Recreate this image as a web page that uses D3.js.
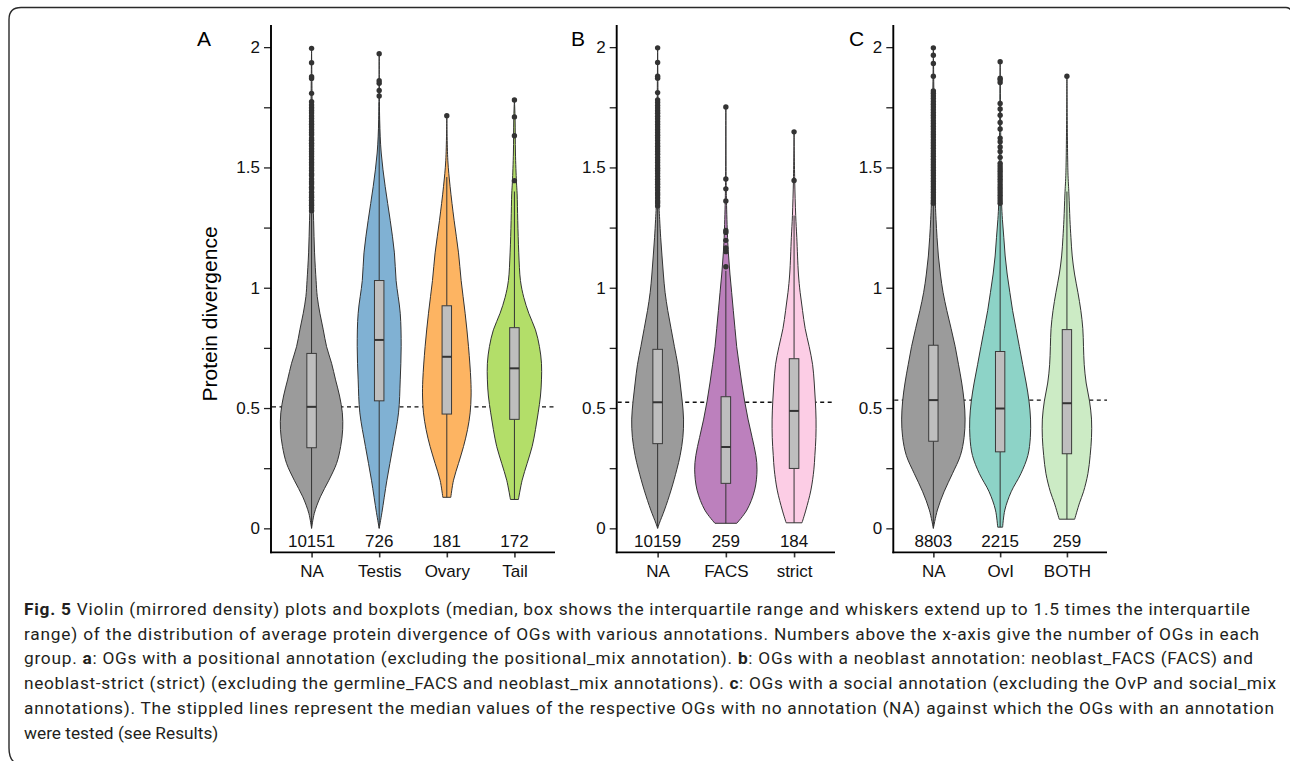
<!DOCTYPE html>
<html><head><meta charset="utf-8">
<script src="https://cdn.jsdelivr.net/npm/d3@7"></script>
<style>body{margin:0;background:#fff}svg{display:block}</style>
</head><body>
<svg id="chart" width="1290" height="761"></svg>
<script>
// ---------------- DATA ----------------
const panelLabels = ["A", "B", "C"];
const categoriesA = ["NA", "Testis", "Ovary", "Tail"];
const categoriesB = ["NA", "FACS", "strict"];
const categoriesC = ["NA", "OvI", "BOTH"];
const countsA = [10151, 726, 181, 172];
const countsB = [10159, 259, 184];
const countsC = [8803, 2215, 259];
const yTickValues = [0, 0.25, 0.5, 0.75, 1, 1.25, 1.5, 1.75, 2];
const yTickLabels = ["0", "", "0.5", "", "1", "", "1.5", "", "2"];
const yTitle = "Protein divergence";
// median of NA group (stippled line)
const naMedians = [0.505, 0.524, 0.533];

// violin density profiles: [value, half-width in category units]
const densityA_NA = [[0,0],[0.062,0.04],[0.131,0.13],[0.2,0.256],[0.27,0.37],[0.34,0.43],[0.41,0.46],[0.48,0.455],[0.55,0.414],[0.617,0.355],[0.686,0.296],[0.755,0.222],[0.825,0.173],[0.894,0.123],[0.963,0.084],[1.03,0.067],[1.145,0.044],[1.28,0.03],[1.4,0.018],[1.6,0.012],[1.8,0.007],[1.995,0]];
const densityA_Testis = [[0,0],[0.065,0.04],[0.2,0.114],[0.34,0.203],[0.48,0.286],[0.617,0.311],[0.755,0.325],[0.894,0.311],[1.03,0.25],[1.145,0.225],[1.28,0.163],[1.42,0.089],[1.56,0.03],[1.7,0.007],[1.973,0]];
const densityA_Ovary = [[0.129,0.059],[0.2,0.099],[0.27,0.173],[0.34,0.247],[0.41,0.306],[0.48,0.345],[0.55,0.359],[0.617,0.355],[0.755,0.321],[0.894,0.271],[1.03,0.212],[1.145,0.173],[1.28,0.108],[1.42,0.049],[1.53,0.015],[1.715,0]];
const densityA_Tail = [[0.12,0.059],[0.2,0.114],[0.27,0.188],[0.34,0.262],[0.41,0.311],[0.48,0.351],[0.55,0.385],[0.617,0.4],[0.686,0.4],[0.755,0.37],[0.825,0.311],[0.894,0.212],[0.96,0.138],[1.03,0.089],[1.145,0.064],[1.28,0.049],[1.39,0.04],[1.44,0.03],[1.56,0.015],[1.7,0.01],[1.78,0]];
const densityB_NA = [[0,0],[0.021,0.025],[0.076,0.1],[0.159,0.197],[0.243,0.28],[0.303,0.33],[0.378,0.37],[0.454,0.38],[0.529,0.36],[0.604,0.33],[0.68,0.296],[0.755,0.246],[0.83,0.197],[0.906,0.148],[0.981,0.109],[1.057,0.084],[1.132,0.064],[1.208,0.045],[1.283,0.03],[1.336,0.021],[1.5,0.013],[1.7,0.008],[1.997,0]];
const densityB_FACS = [[0.021,0.16],[0.076,0.308],[0.159,0.422],[0.243,0.457],[0.303,0.44],[0.378,0.385],[0.454,0.325],[0.529,0.275],[0.604,0.233],[0.68,0.195],[0.755,0.159],[0.83,0.134],[0.906,0.109],[0.981,0.085],[1.057,0.06],[1.132,0.04],[1.208,0.025],[1.36,0.009],[1.45,0.004],[1.751,0]];
const densityB_strict = [[0.023,0.116],[0.076,0.173],[0.159,0.247],[0.243,0.29],[0.303,0.305],[0.378,0.32],[0.454,0.322],[0.529,0.312],[0.604,0.296],[0.68,0.272],[0.755,0.222],[0.83,0.163],[0.906,0.124],[0.981,0.089],[1.057,0.064],[1.208,0.04],[1.3,0.024],[1.45,0.009],[1.648,0]];
const densityC_NA = [[0,0],[0.076,0.06],[0.152,0.16],[0.227,0.285],[0.303,0.405],[0.378,0.46],[0.454,0.475],[0.529,0.46],[0.604,0.425],[0.68,0.377],[0.755,0.327],[0.83,0.266],[0.906,0.201],[0.981,0.145],[1.057,0.105],[1.132,0.075],[1.208,0.055],[1.283,0.04],[1.35,0.03],[1.6,0.015],[1.8,0.008],[1.997,0]];
const densityC_OvI = [[0.005,0.037],[0.076,0.07],[0.152,0.165],[0.227,0.31],[0.303,0.415],[0.378,0.452],[0.454,0.455],[0.529,0.432],[0.604,0.39],[0.68,0.338],[0.755,0.288],[0.83,0.237],[0.906,0.186],[0.981,0.145],[1.057,0.105],[1.132,0.075],[1.208,0.055],[1.283,0.034],[1.357,0.021],[1.6,0.01],[1.939,0]];
const densityC_BOTH = [[0.038,0.116],[0.106,0.189],[0.152,0.248],[0.227,0.314],[0.303,0.348],[0.378,0.368],[0.454,0.368],[0.529,0.338],[0.604,0.288],[0.68,0.259],[0.755,0.248],[0.83,0.238],[0.906,0.208],[0.981,0.164],[1.057,0.114],[1.132,0.079],[1.208,0.06],[1.283,0.045],[1.39,0.03],[1.48,0.015],[1.879,0]];

// box stats: [lower whisker, Q1, median, Q3, upper whisker]
const boxA = [[0,0.335,0.505,0.727,1.31],[0,0.53,0.783,1.03,1.77],[0.129,0.475,0.713,0.925,1.46],[0.12,0.453,0.665,0.834,1.40]];
const boxB = [[0,0.352,0.524,0.744,1.33],[0.021,0.187,0.338,0.547,1.07],[0.023,0.249,0.488,0.705,1.30]];
const boxC = [[0,0.362,0.533,0.761,1.35],[0.005,0.318,0.498,0.735,1.35],[0.038,0.31,0.52,0.826,1.40]];

// outliers
const outliersA_NA = [1.32,1.331,1.343,1.352,1.364,1.376,1.385,1.397,1.41,1.418,1.431,1.44,1.452,1.466,1.474,1.487,1.498,1.51,1.521,1.533,1.545,1.556,1.566,1.578,1.59,1.601,1.613,1.622,1.636,1.645,1.657,1.668,1.68,1.691,1.703,1.714,1.726,1.737,1.748,1.76,1.773,1.808,1.870,1.877,1.935,1.995];
const outliersA_Testis = [1.797,1.82,1.85,1.86,1.973];
const outliersA_Ovary = [1.715];
const outliersA_Tail = [1.445,1.632,1.71,1.78];
const outliersB_NA = [1.34,1.352,1.361,1.373,1.385,1.394,1.406,1.418,1.43,1.44,1.451,1.463,1.475,1.486,1.497,1.508,1.52,1.531,1.542,1.555,1.566,1.577,1.588,1.6,1.612,1.623,1.634,1.645,1.657,1.668,1.679,1.69,1.702,1.713,1.725,1.736,1.747,1.758,1.77,1.781,1.811,1.871,1.879,1.936,1.997];
const outliersB_FACS = [1.087,1.15,1.165,1.197,1.23,1.238,1.361,1.411,1.452,1.751];
const outliersB_strict = [1.446,1.648];
const outliersC_NA = [1.351,1.362,1.374,1.385,1.397,1.408,1.42,1.431,1.443,1.454,1.466,1.477,1.488,1.5,1.511,1.523,1.534,1.546,1.557,1.568,1.58,1.591,1.603,1.614,1.626,1.637,1.648,1.66,1.671,1.683,1.694,1.706,1.717,1.728,1.74,1.751,1.763,1.774,1.786,1.797,1.808,1.818,1.879,1.932,1.966,1.997];
const outliersC_OvI = [1.351,1.362,1.373,1.384,1.395,1.406,1.417,1.428,1.44,1.451,1.462,1.473,1.484,1.495,1.506,1.517,1.542,1.566,1.585,1.607,1.622,1.66,1.687,1.717,1.743,1.766,1.853,1.864,1.871,1.939];
const outliersC_BOTH = [1.879];

const captionLines = [
  [["Fig. 5", true], [" Violin (mirrored density) plots and boxplots (median, box shows the interquartile range and whiskers extend up to 1.5 times the interquartile", false]],
  [["range) of the distribution of average protein divergence of OGs with various annotations. Numbers above the x-axis give the number of OGs in each", false]],
  [["group. ", false], ["a", true], [": OGs with a positional annotation (excluding the positional_mix annotation). ", false], ["b", true], [": OGs with a neoblast annotation: neoblast_FACS (FACS) and", false]],
  [["neoblast-strict (strict) (excluding the germline_FACS and neoblast_mix annotations). ", false], ["c", true], [": OGs with a social annotation (excluding the OvP and social_mix", false]],
  [["annotations). The stippled lines represent the median values of the respective OGs with no annotation (NA) against which the OGs with an annotation", false]],
  [["were tested (see Results)", false]]
];

// ---------------- STYLE / LAYOUT ----------------
const colorsA = ["#9b9b9b", "#80b1d3", "#fdb462", "#b3de69"];
const colorsB = ["#9b9b9b", "#bc80bd", "#fccde5"];
const colorsC = ["#9b9b9b", "#8dd3c7", "#ccebc5"];
const axisFont = "'Liberation Sans', Arial, Helvetica, sans-serif";

const panels = [
  {label: panelLabels[0], cats: categoriesA, counts: countsA, colors: colorsA, box: boxA,
   dens: [densityA_NA, densityA_Testis, densityA_Ovary, densityA_Tail],
   outl: [outliersA_NA, outliersA_Testis, outliersA_Ovary, outliersA_Tail],
   med: naMedians[0], x0: 271, x1: 555, labelX: 197},
  {label: panelLabels[1], cats: categoriesB, counts: countsB, colors: colorsB, box: boxB,
   dens: [densityB_NA, densityB_FACS, densityB_strict],
   outl: [outliersB_NA, outliersB_FACS, outliersB_strict],
   med: naMedians[1], x0: 616.7, x1: 835, labelX: 571},
  {label: panelLabels[2], cats: categoriesC, counts: countsC, colors: colorsC, box: boxC,
   dens: [densityC_NA, densityC_OvI, densityC_BOTH],
   outl: [outliersC_NA, outliersC_OvI, outliersC_BOTH],
   med: naMedians[2], x0: 893.3, x1: 1107, labelX: 849}
];

const svg = d3.select("#chart");
const yTop = 25, yBottom = 552.4;
const y = d3.scaleLinear().domain([-0.1, 2.092]).range([yBottom, yTop]);

// figure frame (bracket)
svg.append("path")
  .attr("d", "M1286,7.5 Q1289,7.5 1291,10 M1286,7.5 L21,7.5 Q9,7.5 9,19.5 L9,748 Q9,758 14,762")
  .attr("fill", "none").attr("stroke", "#2a2a2a").attr("stroke-width", 1.4);

panels.forEach(p => {
  const g = svg.append("g");
  const x = d3.scalePoint().domain(p.cats).range([p.x0, p.x1]).padding(0.6);
  const step = x.step();

  // stippled NA median line
  g.append("line")
    .attr("x1", p.x0 + 1).attr("x2", p.x1)
    .attr("y1", y(p.med)).attr("y2", y(p.med))
    .attr("stroke", "#111").attr("stroke-width", 1.3).attr("stroke-dasharray", "4,3.5");

  // violins
  p.cats.forEach((c, i) => {
    const cx = x(c);
    const area = d3.area()
      .curve(d3.curveCatmullRom.alpha(0.5))
      .y(d => y(d[0]))
      .x0(d => cx - d[1] * step)
      .x1(d => cx + d[1] * step);
    g.append("path").datum(p.dens[i])
      .attr("d", area)
      .attr("fill", p.colors[i])
      .attr("stroke", "#333").attr("stroke-width", 1);
  });

  // boxplots
  const bw = 0.14 * step;
  p.cats.forEach((c, i) => {
    const cx = x(c), b = p.box[i];
    g.append("line").attr("x1", cx).attr("x2", cx).attr("y1", y(b[0])).attr("y2", y(b[1]))
      .attr("stroke", "#333").attr("stroke-width", 1);
    g.append("line").attr("x1", cx).attr("x2", cx).attr("y1", y(b[3])).attr("y2", y(b[4]))
      .attr("stroke", "#333").attr("stroke-width", 1);
    g.append("rect").attr("x", cx - bw / 2).attr("width", bw)
      .attr("y", y(b[3])).attr("height", y(b[1]) - y(b[3]))
      .attr("fill", "#bebebe").attr("stroke", "#3a3a3a").attr("stroke-width", 1);
    g.append("line").attr("x1", cx - bw / 2).attr("x2", cx + bw / 2)
      .attr("y1", y(b[2])).attr("y2", y(b[2]))
      .attr("stroke", "#333").attr("stroke-width", 2);
    g.selectAll(null).data(p.outl[i]).enter().append("circle")
      .attr("cx", cx).attr("cy", d => y(d)).attr("r", 2.7)
      .attr("fill", "#333");
  });

  // counts
  g.selectAll(null).data(p.cats).enter().append("text")
    .attr("x", d => x(d)).attr("y", 546.5)
    .attr("text-anchor", "middle")
    .attr("font-family", axisFont).attr("font-size", 17).attr("fill", "#111")
    .text((d, i) => p.counts[i]);

  // y axis
  const yAxis = d3.axisLeft(y).tickValues(yTickValues)
    .tickFormat((d, i) => yTickLabels[i]).tickSize(7).tickPadding(4);
  const ya = g.append("g").attr("transform", `translate(${p.x0},0)`).call(yAxis);
  ya.select(".domain").remove();
  ya.selectAll(".tick line").attr("stroke", "#222").attr("stroke-width", 1.3);
  ya.selectAll(".tick text").attr("font-family", axisFont).attr("font-size", 17).attr("fill", "#111");
  g.append("line").attr("x1", p.x0).attr("x2", p.x0).attr("y1", yTop).attr("y2", yBottom + 0.9)
    .attr("stroke", "#000").attr("stroke-width", 1.9);

  // x axis
  const xAxis = d3.axisBottom(x).tickSize(5).tickPadding(8);
  const xa = g.append("g").attr("transform", `translate(0,${yBottom})`).call(xAxis);
  xa.select(".domain").remove();
  xa.selectAll(".tick line").attr("stroke", "#333").attr("stroke-width", 1.6);
  xa.selectAll(".tick text").attr("font-family", axisFont).attr("font-size", 17).attr("fill", "#111");
  g.append("line").attr("x1", p.x0 - 0.9).attr("x2", p.x1).attr("y1", yBottom).attr("y2", yBottom)
    .attr("stroke", "#000").attr("stroke-width", 1.9);

  // panel label
  g.append("text").attr("x", p.labelX).attr("y", 46)
    .attr("font-family", axisFont).attr("font-size", 21).attr("fill", "#000")
    .text(p.label);
});

// y-axis title
svg.append("text")
  .attr("transform", "translate(217,314) rotate(-90)")
  .attr("text-anchor", "middle")
  .attr("font-family", axisFont).attr("font-size", 21).attr("fill", "#000")
  .text(yTitle);

// caption
const capX = 24;
const capBaselines = [615, 640, 664, 689, 714, 739];
const capEnds = [1250, 1259, 1253, 1276, 1274, null];
captionLines.forEach((segs, i) => {
  const t = svg.append("text")
    .attr("x", capX).attr("y", capBaselines[i])
    .attr("font-family", "Roboto, 'Open Sans', sans-serif").attr("font-size", 17.3)
    .attr("fill", "#231f20");
  if (capEnds[i]) t.attr("textLength", capEnds[i] - capX).attr("lengthAdjust", "spacing");
  segs.forEach(s => {
    t.append("tspan").attr("font-weight", s[1] ? "bold" : "normal").text(s[0]);
  });
});
</script>
</body></html>
